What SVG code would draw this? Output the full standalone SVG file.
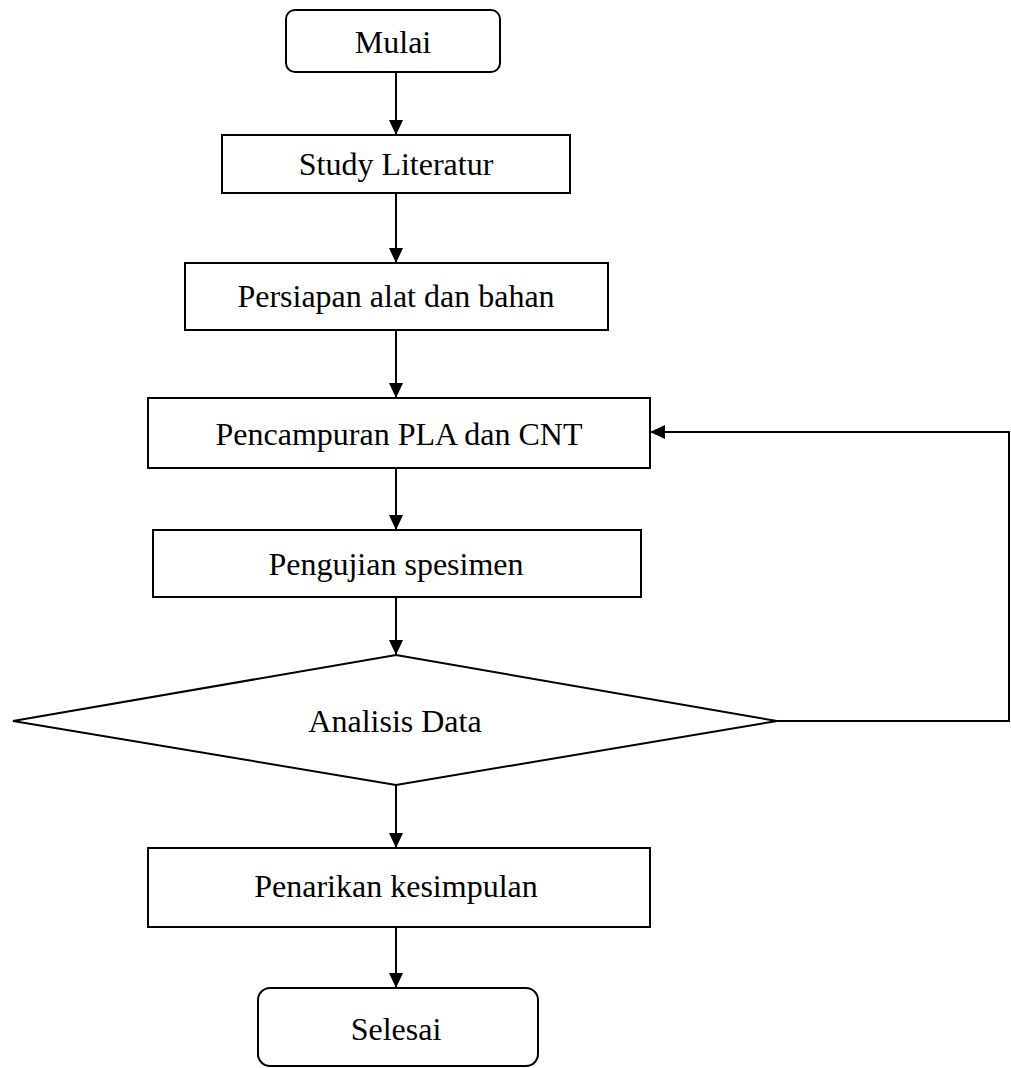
<svg xmlns="http://www.w3.org/2000/svg" width="1011" height="1068" viewBox="0 0 1011 1068">
<defs>
<style>
.shape{fill:#fff;stroke:#000;stroke-width:2}
.lbl{font-family:"Liberation Serif","Times New Roman",serif;font-size:32px;fill:#000;text-anchor:middle}
.conn{fill:none;stroke:#000;stroke-width:2}
</style>
<marker id="arr" markerWidth="16" markerHeight="16" viewBox="0 0 16 16" refX="15" refY="8" orient="auto" markerUnits="userSpaceOnUse">
<path d="M0,1 L15,8 L0,15 Z" fill="#000"/>
</marker>
</defs>
<rect width="1011" height="1068" fill="#fff"/>
<g id="connectors">
<line class="conn" x1="396" y1="72" x2="396" y2="135" marker-end="url(#arr)"/>
<line class="conn" x1="396" y1="193" x2="396" y2="263" marker-end="url(#arr)"/>
<line class="conn" x1="396" y1="330" x2="396" y2="398" marker-end="url(#arr)"/>
<line class="conn" x1="396" y1="468" x2="396" y2="530" marker-end="url(#arr)"/>
<line class="conn" x1="396" y1="597" x2="396" y2="655" marker-end="url(#arr)"/>
<line class="conn" x1="396" y1="785" x2="396" y2="848" marker-end="url(#arr)"/>
<line class="conn" x1="396" y1="927" x2="396" y2="988" marker-end="url(#arr)"/>
<polyline class="conn" points="777,721 1009,721 1009,432 650,432" marker-end="url(#arr)"/>
</g>
<g id="mulai">
<rect class="shape" x="286" y="10" width="214" height="62" rx="9"/>
<text class="lbl" x="393" y="53">Mulai</text>
</g>
<g id="study">
<rect class="shape" x="222" y="135" width="348" height="58"/>
<text class="lbl" x="396" y="175">Study Literatur</text>
</g>
<g id="persiapan">
<rect class="shape" x="185" y="263" width="423" height="67"/>
<text class="lbl" x="396" y="307">Persiapan alat dan bahan</text>
</g>
<g id="pencampuran">
<rect class="shape" x="148" y="398" width="502" height="70"/>
<text class="lbl" x="399" y="445">Pencampuran PLA dan CNT</text>
</g>
<g id="pengujian">
<rect class="shape" x="153" y="530" width="488" height="67"/>
<text class="lbl" x="396" y="575">Pengujian spesimen</text>
</g>
<g id="analisis">
<polygon class="shape" points="396,655 777,721 396,785 13,721"/>
<text class="lbl" x="395" y="732">Analisis Data</text>
</g>
<g id="penarikan">
<rect class="shape" x="148" y="848" width="502" height="79"/>
<text class="lbl" x="396" y="897">Penarikan kesimpulan</text>
</g>
<g id="selesai">
<rect class="shape" x="258" y="988" width="280" height="78" rx="12"/>
<text class="lbl" x="396" y="1040">Selesai</text>
</g>
</svg>
